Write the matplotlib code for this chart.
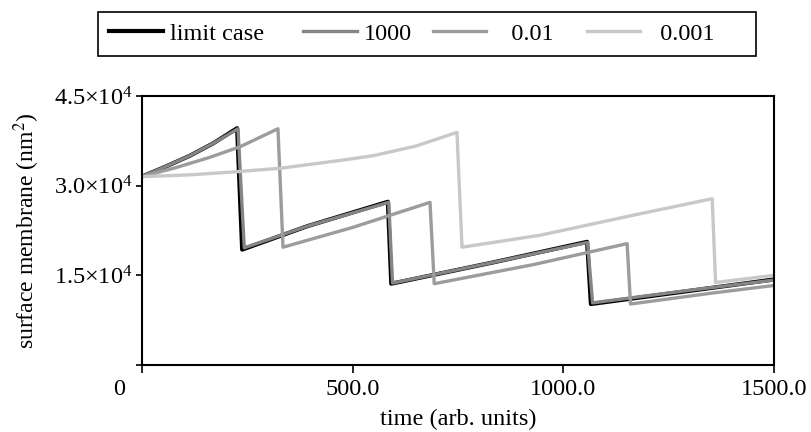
import numpy as np
import matplotlib.pyplot as plt
from matplotlib.ticker import FuncFormatter
from matplotlib.transforms import ScaledTranslation

plt.rcParams['font.family'] = ['Liberation Serif', 'DejaVu Serif']
plt.rcParams['mathtext.fontset'] = 'stix'

# data (time in arb. units, surface in nm^2)
t_limit = [0, 57, 114, 170, 226, 238, 392, 584, 592, 830, 1057, 1066, 1300, 1500]
s_limit = [31500, 33200, 35000, 37100, 39600, 19300, 23200, 27300, 13600, 17100, 20600, 10200, 12400, 14300]

t_1000 = [0, 57, 114, 170, 228, 243, 392, 586, 595, 830, 1058, 1070, 1300, 1500]
s_1000 = [31500, 33200, 35000, 37100, 39500, 19600, 23200, 27200, 13700, 17100, 20500, 10400, 12500, 14200]

t_001 = [0, 80, 160, 233, 323, 335, 500, 684, 694, 930, 1152, 1160, 1350, 1500]
s_001 = [31500, 33000, 34700, 36500, 39500, 19700, 23000, 27200, 13600, 16800, 20300, 10200, 12000, 13300]

t_0001 = [0, 114, 220, 328, 470, 549, 650, 748, 760, 945, 1183, 1354, 1362, 1500]
s_0001 = [31500, 31800, 32300, 32900, 34200, 35000, 36600, 38900, 19700, 21700, 25300, 27800, 13800, 15000]

labels = ['limit case   ', '1000', '   0.01  ', '  0.001     ']
colors = ['#000000', '#858585', '#9c9c9c', '#c8c8c8']
widths = [3.0, 2.4, 2.4, 2.4]

x_ticks = [0, 500, 1000, 1500]
x_ticklabels = ['0', '500.0', '1000.0', '1500.0']
y_ticks = [0, 15000, 30000, 45000]

fs = 17.5

fig, ax = plt.subplots(figsize=(8.11, 4.32), dpi=100)
fig.subplots_adjust(left=0.175, right=0.954, bottom=0.155, top=0.778)

series = [(t_limit, s_limit), (t_1000, s_1000), (t_001, s_001), (t_0001, s_0001)]
for (t, s), lab, c, w in zip(series, labels, colors, widths):
    ax.plot(t, s, color=c, lw=w, label=lab, solid_joinstyle='round')

ax.set_xlim(0, 1500)
ax.set_ylim(0, 45000)
ax.set_xticks(x_ticks)
ax.set_xticklabels(x_ticklabels)
ax.set_yticks(y_ticks)

def yfmt(v, pos):
    if v == 0:
        return ''
    return r'$\mathregular{%.1f{\times}10^{4}}$' % (v / 1e4)

ax.yaxis.set_major_formatter(FuncFormatter(yfmt))

ax.tick_params(axis='x', direction='out', length=6, width=1.2, labelsize=fs, pad=4)
ax.tick_params(axis='y', direction='out', length=4, width=1.2, labelsize=fs, pad=3)
for sp in ax.spines.values():
    sp.set_linewidth(1.5)
    sp.set_color('black')

# the "0" label sits to the left of the origin
lbl0 = ax.get_xticklabels()[0]
lbl0.set_transform(lbl0.get_transform() + ScaledTranslation(-0.225, 0, fig.dpi_scale_trans))

ax.set_xlabel('time (arb. units)', fontsize=fs, labelpad=6.5)
ax.set_ylabel('surface membrane (nm$^2$)', fontsize=17, labelpad=8)

leg = fig.legend(loc='center', bbox_to_anchor=(0.5265, 0.922), ncol=4, fontsize=fs,
                 frameon=True, fancybox=False, edgecolor='black', framealpha=1,
                 handlelength=2.2, handletextpad=0.3, columnspacing=0.85,
                 borderpad=0.45)
leg.get_frame().set_linewidth(1.2)

plt.savefig('out.png', dpi=100)
